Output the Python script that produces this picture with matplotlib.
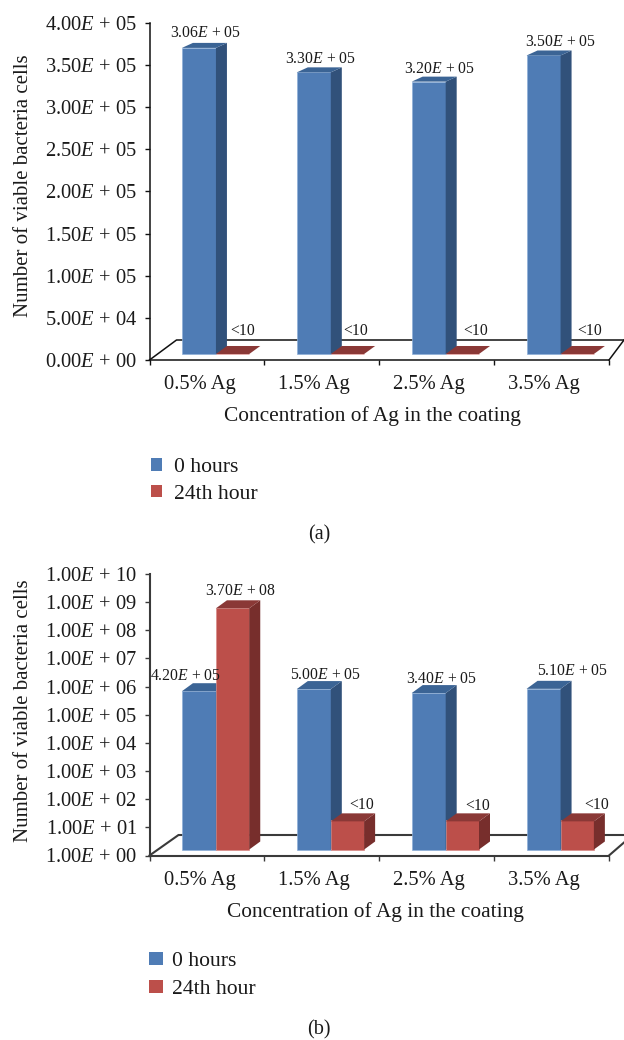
import matplotlib
matplotlib.use("Agg")
import matplotlib.pyplot as plt
from matplotlib.patches import Polygon, Patch
from matplotlib.transforms import IdentityTransform, offset_copy

plt.rcParams['font.family'] = ['Liberation Serif', 'DejaVu Serif']
plt.rcParams['mathtext.fontset'] = 'custom'
plt.rcParams['mathtext.rm'] = 'Liberation Serif'
plt.rcParams['mathtext.it'] = 'Liberation Serif:italic'

categories = ['0.5% Ag', '1.5% Ag', '2.5% Ag', '3.5% Ag']
series_names = ['0 hours', '24th hour']

# bar heights as drawn (they do not always agree with the printed labels)
a_hours0 = [3.63e5, 3.34e5, 3.23e5, 3.54e5]
a_hours24 = [10, 10, 10, 10]
a_labels0 = ['3.06$E$ + 05', '3.30$E$ + 05', '3.20$E$ + 05', '3.50$E$ + 05']
a_labels24 = ['<10', '<10', '<10', '<10']
a_ticks = [0, 5e4, 1e5, 1.5e5, 2e5, 2.5e5, 3e5, 3.5e5, 4e5]
a_ticklabels = ['0.00$E$ + 00', '5.00$E$ + 04', '1.00$E$ + 05', '1.50$E$ + 05', '2.00$E$ + 05',
                '2.50$E$ + 05', '3.00$E$ + 05', '3.50$E$ + 05', '4.00$E$ + 05']

b_hours0 = [4.2e5, 5.0e5, 3.6e5, 5.1e5]
b_hours24 = [3.7e8, 10, 10, 10]
b_labels0 = ['4.20$E$ + 05', '5.00$E$ + 05', '3.40$E$ + 05', '5.10$E$ + 05']
b_labels24 = ['3.70$E$ + 08', '<10', '<10', '<10']
b_ticks = [1e0, 1e1, 1e2, 1e3, 1e4, 1e5, 1e6, 1e7, 1e8, 1e9, 1e10]
b_ticklabels = ['1.00$E$ + %02d' % i for i in range(11)]

W, H = 624, 1040
BLUE = ('#4F7CB5', '#31517A', '#3B6495')
RED = ('#BC4F4A', '#772E2C', '#8A3836')
INK = '#1a1a1a'
TEXT_SIZE = 14.8
VALUE_SIZE = 11.3

fig = plt.figure(figsize=(W / 100, H / 100), dpi=100)


def fx(x):
    return x / W


def fy(y):
    return 1 - y / H


def draw_series(ax, x, values, colors, shift_x, shift_y, dx, dy, width):
    base = 1 if ax.get_yscale() == 'log' else 0
    tr = offset_copy(ax.transData, fig=fig, x=shift_x, y=shift_y, units='dots')
    ax.bar(x, values, width=width, bottom=base, align='edge', color=colors[0],
           edgecolor='#8fb0d8' if colors is BLUE else '#d98c88', linewidth=0.5, transform=tr, zorder=3)
    for xi, v in zip(x, values):
        p0 = tr.transform((xi, v))
        p1 = tr.transform((xi + width, v))
        p2 = tr.transform((xi + width, base))
        side = [p1, p1 + (dx, dy), p2 + (dx, dy), p2]
        top = [p0, p0 + (dx, dy), p1 + (dx, dy), p1]
        ax.add_patch(Polygon(side, closed=True, fc=colors[1], ec='none', transform=IdentityTransform(),
                             clip_on=False, zorder=3))
        ax.add_patch(Polygon(top, closed=True, fc=colors[2], ec='none', transform=IdentityTransform(),
                             clip_on=False, zorder=3))
    return tr


def panel(top_px, bottom_px, log, ticks, ticklabels, hours0, hours24, labels0, labels24,
          back_px, corner_dx, right_rise, axis_color, axis_lw, dy_blue, dy_red,
          lab0_off, lab24_off, ylabel_y, xlabel_xy, leg_anchor, leg_size, caption, caption_xy):
    ax = fig.add_axes([fx(149.5), fy(bottom_px), 459.5 / W, (bottom_px - top_px) / H])
    if log:
        ax.set_yscale('log')
    ax.set_xlim(-0.5, 3.5)
    ax.set_ylim(ticks[0], ticks[-1])
    for s in ('top', 'right'):
        ax.spines[s].set_visible(False)
    for s in ('left', 'bottom'):
        ax.spines[s].set_color(axis_color)
        ax.spines[s].set_linewidth(axis_lw)

    x0 = [i - 0.296 for i in range(4)]
    x1 = [i for i in range(4)]
    tr_blue = draw_series(ax, x0, hours0, BLUE, 9, 6, 11, dy_blue, 0.296)
    tr_red = draw_series(ax, x1, hours24, RED, 9, 6, 11, dy_red, 0.29)

    ax.set_yticks(ticks)
    ax.set_yticklabels(ticklabels, fontsize=TEXT_SIZE, color=INK)
    ax.minorticks_off()
    ax.tick_params(axis='y', length=3.5, width=1, color=axis_color, pad=5.5)
    ax.set_xticks([-0.5, 0.5, 1.5, 2.5, 3.5])
    ax.set_xticklabels([])
    ax.tick_params(axis='x', which='major', length=3.5, width=1, color=axis_color)
    for i, c in enumerate(categories):
        ax.annotate(c, xy=(i, 0), xycoords=ax.get_xaxis_transform(), xytext=(-7.5, -24.5),
                    textcoords='offset pixels', ha='center', va='center', fontsize=TEXT_SIZE, color=INK)

    # floor of the 3d box
    corner = ax.transAxes.transform((0, 0))
    end = ax.transAxes.transform((1, 0))
    back_y = H - back_px
    ax.plot([corner[0], corner[0] + corner_dx, W], [corner[1], back_y, back_y], color=axis_color, lw=axis_lw,
            transform=IdentityTransform(), clip_on=False, zorder=1)
    ax.plot([end[0], W], [end[1], end[1] + right_rise], color=axis_color, lw=axis_lw,
            transform=IdentityTransform(), clip_on=False, zorder=1)

    for i, (v, t) in enumerate(zip(hours0, labels0)):
        ax.annotate(t, xy=tr_blue.transform((x0[i] + 0.148, v)), xycoords=IdentityTransform(), xytext=lab0_off[i],
                    textcoords='offset pixels', ha='center', va='center', fontsize=VALUE_SIZE, color=INK, zorder=5)
    for i, (v, t) in enumerate(zip(hours24, labels24)):
        ax.annotate(t, xy=tr_red.transform((x1[i] + 0.145, v)), xycoords=IdentityTransform(), xytext=lab24_off[i],
                    textcoords='offset pixels', ha='center', va='center', fontsize=VALUE_SIZE, color=INK, zorder=5)

    fig.text(fx(24), fy(ylabel_y), 'Number of viable bacteria cells', rotation=90, ha='center', va='center',
             fontsize=TEXT_SIZE + 0.2, color=INK)
    fig.text(fx(xlabel_xy[0]), fy(xlabel_xy[1]), 'Concentration of Ag in the coating', ha='center', va='center',
             fontsize=15.4, color=INK)

    handles = [Patch(fc=BLUE[0], ec='none'), Patch(fc=RED[0], ec='none')]
    fig.legend(handles, series_names, loc='center left', bbox_to_anchor=(fx(leg_anchor[0]), fy(leg_anchor[1])),
               frameon=False, fontsize=15.6, handlelength=leg_size[0], handleheight=leg_size[1],
               handletextpad=leg_size[2], labelspacing=leg_size[3], borderpad=0, borderaxespad=0,
               labelcolor=INK)
    fig.text(fx(caption_xy[0]), fy(caption_xy[1]), caption, ha='center', va='center', fontsize=14.5, color=INK)
    return ax


panel(22.7, 360, False, a_ticks, a_ticklabels, a_hours0, a_hours24, a_labels0, a_labels24,
      340, 27, 20, '#111111', 1.1, 5, 8,
      [(7, 15), (7, 13), (11, 13), (17, 13)], [(10, 23), (8, 23), (13, 23), (12, 23)],
      186, (372, 416), (151, 481), (0.5, 0.5, 0.55, 0.35), '(a)', (319, 535))

panel(574, 855.5, True, b_ticks, b_ticklabels, b_hours0, b_hours24, b_labels0, b_labels24,
      835, 29, 13, '#3a3a3a', 1.5, 8, 8,
      [(-13, 15), (12, 14), (13, 14), (29, 18)], [(8, 17), (14, 16), (15, 15), (19, 16)],
      711, (375, 912), (149, 975.5), (0.65, 0.55, 0.4, 0.42), '(b)', (319, 1030))

fig.savefig('out.png', dpi=100)
